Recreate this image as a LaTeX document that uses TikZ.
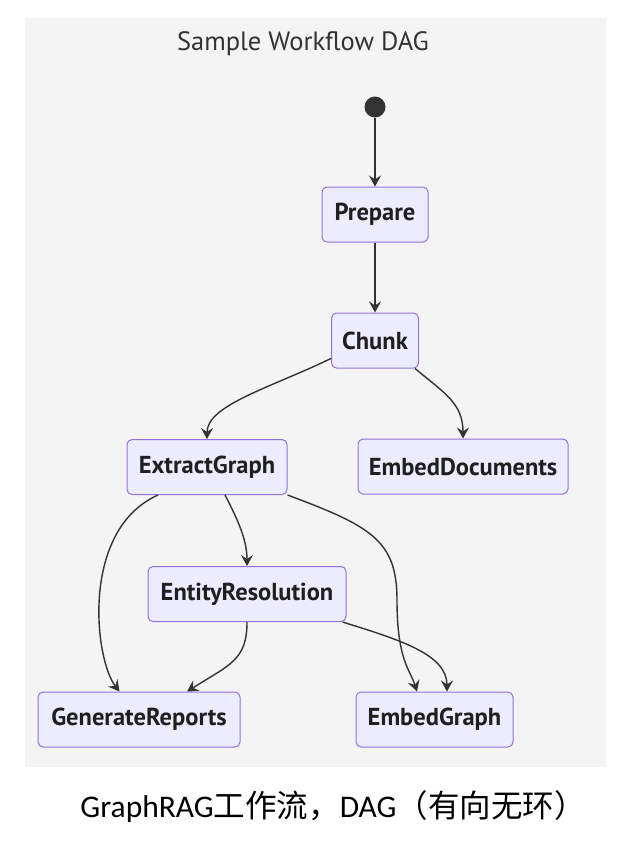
\documentclass[tikz,border=0pt]{standalone}
\usepackage{fontspec}
\setmainfont{PT Sans}
\newfontfamily\capfont{Carlito}
\newfontfamily\cjk{Noto Sans CJK SC}
\usetikzlibrary{arrows.meta,calc}
\definecolor{panel}{HTML}{F4F4F4}
\definecolor{nodefill}{HTML}{ECECFF}
\definecolor{nodeline}{HTML}{9370DB}
\definecolor{ink}{HTML}{333333}
\begin{document}
\begin{tikzpicture}[x=1pt,y=-1pt,
  stage/.style={draw=nodeline, fill=nodefill, line width=1pt, rounded corners=5pt,
    minimum height=55pt, inner sep=0pt, font=\fontsize{24.5}{29}\selectfont\bfseries, text=black!88},
  flow/.style={draw=ink, line width=1.4pt, -{Stealth[length=11pt,width=12pt,inset=4pt]}},
  titletext/.style={font=\fontsize{26.5}{31}\selectfont, text=ink, inner sep=0pt},
  captext/.style={font=\fontsize{31.5}{36}\selectfont, text=black, inner sep=0pt}]
\useasboundingbox (0,0) rectangle (636,846);
\fill[white] (0,0) rectangle (636,846);
\fill[panel] (25,18) rectangle (606,767);
\node[titletext, anchor=base] (title) at (303,50) {Sample Workflow DAG};
\node[circle, fill=ink, inner sep=0pt, minimum size=21pt] (st) at (375,107) {};
\node[stage, minimum width=106pt] (pr) at (375,214.5) {Prepare};
\node[stage, minimum width=87pt] (ch) at (375,340.5) {Chunk};
\node[stage, minimum width=160pt] (eg) at (207,467) {ExtractGraph};
\node[stage, minimum width=210pt] (ed) at (463,466.5) {EmbedDocuments};
\node[stage, minimum width=198pt] (er) at (247,594) {EntityResolution};
\node[stage, minimum width=202pt] (gr) at (139,719.5) {GenerateReports};
\node[stage, minimum width=157pt] (em) at (434.5,719.5) {EmbedGraph};
\coordinate (m1) at (397,600);
\draw[flow] (st.south) -- (pr.north);
\draw[flow] (pr.south) -- (ch.north);
\draw[flow] ($(ch.south west)+(0,-10)$) .. controls +(-60,29) and +(0,-34) .. (eg.north);
\draw[flow] ($(ch.south east)+(-4,0)$) .. controls +(30,25) and +(0,-35) .. (ed.north);
\draw[flow] ($(eg.south)+(-49,0)$) .. controls +(-78,35) and +(-25,-32) .. ($(gr.north west)+(82,0)$);
\draw[flow] ($(eg.south)+(18,0)$) .. controls +(13,25) and +(0,-26) .. (er.north);
\draw[flow] (eg.south east) .. controls +(83,31) and +(0,-60) .. (m1) .. controls +(0,60) and +(-7,-22) .. ($(em.north)+(-17.5,0)$);
\draw[flow] (er.south) .. controls +(0,38) and +(43,-27) .. ($(gr.north)+(48,0)$);
\draw[flow] ($(er.south east)+(-4,0)$) .. controls +(58,18) and +(0,-37) .. ($(em.north)+(12.5,0)$);
\node[captext, anchor=base] (cap) at (333,817) {{\capfont GraphRAG}{\cjk 工作流，}{\capfont DAG}{\cjk （有向无环）}};
\end{tikzpicture}
\end{document}
